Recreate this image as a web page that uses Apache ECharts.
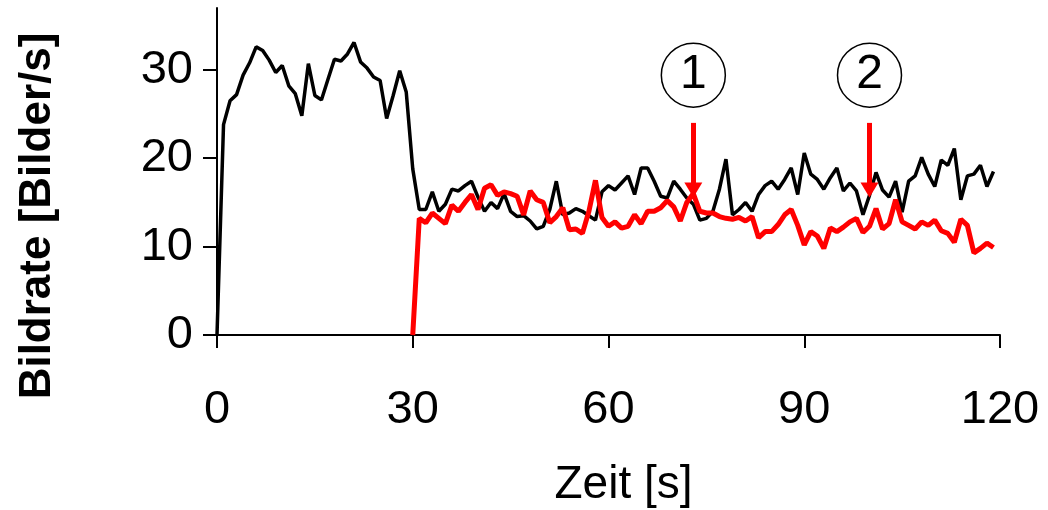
<!DOCTYPE html>
<html>
<head>
<meta charset="utf-8">
<script src="https://cdn.jsdelivr.net/npm/echarts@6/dist/echarts.min.js"></script>
<style>
html,body{margin:0;padding:0;background:#fff;}
#chart{width:1048px;height:510px;}
</style>
</head>
<body>
<div id="chart"></div>
<script>
// time step in seconds between samples
const timeStep = 1;
// Frame rate series (black), samples at t = 0..119 s
const blackRate = [
  0, 23.8, 26.5, 27.2, 29.4, 30.8, 32.6, 32.2, 31.1, 29.7,
  30.5, 28.2, 27.3, 24.8, 30.7, 27.1, 26.6, 28.9, 31.2, 31.0,
  31.8, 33.1, 30.9, 30.2, 29.2, 28.8, 24.5, 27.1, 29.9, 27.5,
  18.8, 14.2, 14.2, 16.2, 14.0, 14.8, 16.5, 16.3, 16.9, 17.4,
  15.6, 14.0, 15.0, 14.3, 16.0, 14.0, 13.4, 13.5, 12.9, 12.0,
  12.3, 14.2, 17.4, 13.6, 13.8, 14.3, 14.0, 13.5, 13.0, 16.2,
  16.9, 16.4, 17.2, 18.0, 15.9, 18.9, 18.9, 17.4, 15.7, 15.5,
  17.4, 16.5, 15.5, 14.8, 13.0, 13.2, 14.0, 16.5, 19.9, 13.6,
  14.2, 15.0, 14.0, 15.9, 16.9, 17.4, 16.5, 17.6, 18.9, 15.9,
  20.6, 18.2, 17.6, 16.5, 17.8, 18.9, 16.3, 17.2, 16.3, 13.6,
  15.8, 18.4, 16.4, 15.6, 17.4, 13.9, 17.4, 18.0, 20.1, 18.2,
  16.8, 19.8, 19.2, 21.1, 15.3, 18.0, 18.2, 19.2, 16.8, 18.5
];
// Frame rate series (red), starts at t = 30 s
const redRate = [
  null, null, null, null, null, null, null, null, null, null,
  null, null, null, null, null, null, null, null, null, null,
  null, null, null, null, null, null, null, null, null, null,
  0, 13.2, 12.7, 13.8, 13.2, 12.6, 14.7, 14.0, 15.0, 15.9,
  14.2, 16.6, 17.0, 15.8, 16.2, 16.0, 15.7, 13.6, 16.3, 15.3,
  15.0, 12.7, 13.4, 14.4, 11.9, 12.0, 11.5, 14.0, 17.5, 13.3,
  12.3, 12.8, 12.1, 12.3, 13.6, 12.6, 14.0, 14.0, 14.4, 15.2,
  14.5, 12.9, 15.0, 16.0, 14.0, 13.8, 13.8, 13.4, 13.2, 13.1,
  13.3, 12.9, 13.4, 11.0, 11.7, 11.7, 12.5, 13.6, 14.2, 12.4,
  10.2, 11.7, 11.2, 9.8, 12.1, 11.7, 12.2, 12.8, 13.2, 11.6,
  12.3, 14.3, 12.0, 12.6, 15.3, 12.8, 12.4, 12.0, 12.8, 12.4,
  13.0, 11.8, 11.5, 10.5, 13.1, 12.4, 9.3, 9.8, 10.4, 9.9
];
const xTicks = [0, 30, 60, 90, 120];
const yTicks = [0, 10, 20, 30];
// annotation markers: label, time, arrow top, arrow tip, circle centre value
const markerLabels = ['1', '2'];
const markerTimes = [73, 100];
const arrowTop = 24.0;
const arrowTip = 16.4;
const circleLevel = 29.4;
const xName = 'Zeit [s]';
const yName = 'Bildrate [Bilder/s]';

const FONT = 'Liberation Sans, Arial, sans-serif';
const chart = echarts.init(document.getElementById('chart'), null, {renderer: 'canvas'});

const blackData = blackRate.map((v, i) => [i * timeStep, v]);
const redData = redRate.map((v, i) => [i * timeStep, v]);

const option = {
  backgroundColor: '#ffffff',
  animation: false,
  grid: {left: 217, right: 48, top: 8, bottom: 175, containLabel: false, outerBoundsMode: 'none'},
  graphic: [{
    type: 'text', x: 38, y: 216, rotation: Math.PI / 2, silent: true,
    style: {text: yName, font: 'bold 44px ' + FONT, fill: '#000',
            textAlign: 'center', textVerticalAlign: 'middle'}
  }],
  xAxis: {
    type: 'value', min: 0, max: 120, interval: 30,
    name: xName, nameLocation: 'middle', nameGap: 127,
    nameTextStyle: {fontSize: 46, color: '#000', fontFamily: FONT, padding: [0, 0, 0, 30]},
    axisLine: {show: true, lineStyle: {color: '#000', width: 2}},
    axisTick: {show: true, length: 13, lineStyle: {color: '#000', width: 2}, customValues: xTicks},
    axisLabel: {fontSize: 47, color: '#000', fontFamily: FONT, margin: 52, customValues: xTicks},
    splitLine: {show: false}
  },
  yAxis: {
    type: 'value', min: 0, max: 37, interval: 10,
    axisLine: {show: true, lineStyle: {color: '#000', width: 2}},
    axisTick: {show: true, length: 14, lineStyle: {color: '#000', width: 2}, customValues: yTicks},
    axisLabel: {fontSize: 47, color: '#000', fontFamily: FONT, margin: 24, customValues: yTicks},
    splitLine: {show: false}
  },
  series: [
    {
      type: 'line', data: blackData, showSymbol: false, symbol: 'none',
      lineStyle: {color: '#000', width: 3.5}, z: 2,
      markPoint: {
        symbol: 'circle', symbolSize: 64, silent: true,
        itemStyle: {color: '#fff', borderColor: '#000', borderWidth: 1.5},
        label: {show: true, position: 'inside', color: '#000', fontSize: 48, fontFamily: FONT,
                formatter: p => p.name},
        data: markerTimes.map((t, i) => ({name: markerLabels[i], coord: [t, circleLevel]}))
      }
    },
    {
      type: 'line', data: redData, showSymbol: false, symbol: 'none', connectNulls: false,
      lineStyle: {color: '#ff0000', width: 5}, z: 3,
      markLine: {
        silent: true, symbol: ['none', 'triangle'], symbolSize: [18, 15],
        lineStyle: {color: '#ff0000', width: 5, type: 'solid'},
        label: {show: false},
        data: markerTimes.map(t => [{coord: [t, arrowTop]}, {coord: [t, arrowTip]}])
      }
    }
  ]
};
chart.setOption(option);
</script>
</body>
</html>
